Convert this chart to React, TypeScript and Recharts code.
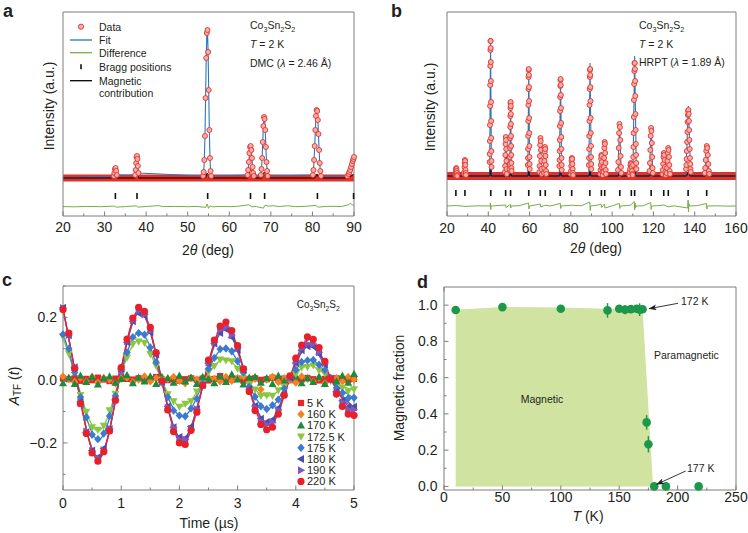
import React from 'react';
import { ComposedChart, Line, Scatter, Area, XAxis, YAxis, ErrorBar } from 'recharts';

const FONT = '"Liberation Sans", Arial, Helvetica, sans-serif';
const INK = '#231f20';
const FRAME = '#7d7d7d';
const RED = '#e2312b';
const PINK = '#f6b0a9';
const BLUE = '#2a78bb';
const DIFF = '#76ae45';
const DGREEN = '#1d984a';
const AREA = '#d0e3a0';

type Pt = [number, number];
const pts = (arr: Pt[]) => arr.map(([x, y]) => ({ x, y }));

// ---------- a: DMC pattern (intensity in arbitrary units) ----------
const obsA: Pt[] = [
  [32.2, 40], [32.35, 43], [32.5, 47], [32.65, 48], [32.8, 45], [32.95, 41],
  [37.35, 41], [37.5, 46], [37.6, 53], [37.7, 59], [37.8, 60], [37.9, 57], [38.0, 50], [38.15, 43],
  [53.7, 40], [53.85, 44], [54.0, 56], [54.15, 80], [54.3, 118], [54.45, 158], [54.6, 183], [54.75, 186],
  [54.9, 164], [55.05, 126], [55.2, 86], [55.35, 58], [55.5, 45], [55.65, 40],
  [64.4, 41], [64.55, 46], [64.7, 54], [64.85, 63], [65.0, 69], [65.15, 70], [65.3, 66], [65.45, 58],
  [65.6, 49], [65.75, 43], [65.9, 40],
  [67.6, 41], [67.75, 47], [67.9, 58], [68.05, 74], [68.2, 90], [68.35, 99], [68.5, 97], [68.65, 86],
  [68.8, 69], [68.95, 54], [69.1, 45], [69.25, 40],
  [80.1, 41], [80.25, 46], [80.4, 56], [80.55, 70], [80.7, 86], [80.85, 100], [81.0, 106], [81.15, 105],
  [81.3, 96], [81.45, 82], [81.6, 66], [81.75, 53], [81.9, 45], [82.05, 40],
  [88.4, 40], [88.7, 42], [88.9, 44], [89.1, 46], [89.3, 49], [89.5, 52], [89.7, 55], [89.85, 57], [90.0, 59],
];
const backgroundA: Pt[] = [[20, 38], [90, 38]];
const fitA: Pt[] = [[20, 38], ...obsA];
const magA: Pt[] = [
  [20, 38], [32.2, 38], [32.6, 43], [33.0, 38], [37.4, 38], [37.8, 48], [38.2, 38], [54.2, 38], [54.7, 43],
  [55.2, 38], [64.5, 38], [65.1, 47], [65.7, 38], [67.9, 38], [68.4, 44], [68.9, 38], [80.6, 38], [81.1, 42],
  [81.6, 38], [88.4, 38], [89.3, 40], [90, 42],
];
const diffA: Pt[] = [
  [20, 9.4], [23, 9.2], [26, 9.6], [29, 9.3], [32.4, 9.9], [32.8, 8.8], [35, 9.4], [37.6, 10.2], [38.0, 8.9],
  [40, 9.5], [43, 10.4], [44, 9.4], [47, 9.6], [50, 9.3], [52, 9.6], [54.3, 8.6], [54.7, 12.0], [55.0, 7.6],
  [55.4, 10.2], [56, 9.2], [58, 9.6], [60, 9.3], [62, 9.7], [64.7, 11.2], [65.4, 9.2], [66.5, 9.5], [68.2, 7.8],
  [68.6, 10.8], [69.5, 9.8], [70.5, 10.3], [72, 9.4], [74, 10.3], [76, 9.3], [78, 9.6], [80.8, 10.6], [81.4, 8.9],
  [83, 9.5], [85, 9.7], [87, 9.4], [88.6, 11.2], [89.2, 12.6], [89.7, 11], [90, 10.4],
];
const braggA = [32.6, 37.8, 54.8, 65.1, 68.5, 81.2, 89.9];
const BRAGG_LEVEL_A = 20;
const ticksA = [20, 25, 30, 35, 40, 45, 50, 55, 60, 65, 70, 75, 80, 85, 90];

// ---------- b: HRPT pattern ----------
const obsB: Pt[] = [
  [24.07, 41], [24.17, 42], [24.27, 44], [24.37, 47], [24.47, 48], [24.58, 47], [24.68, 45], [24.78, 43], [24.88, 41], [24.98, 40],
  [28.27, 42], [28.37, 44], [28.47, 49], [28.57, 53], [28.67, 56], [28.78, 55], [28.88, 51], [28.98, 46], [29.08, 43], [29.18, 41],
  [40.67, 54], [40.72, 62], [40.77, 75], [40.82, 91], [40.87, 110], [40.92, 131], [40.97, 150], [41.02, 166], [41.07, 175], [41.12, 175],
  [41.17, 168], [41.22, 154], [41.27, 135], [41.32, 114], [41.37, 95], [41.42, 78], [41.47, 65], [41.52, 55], [41.57, 49],
  [48.07, 44], [48.17, 50], [48.27, 61], [48.37, 72], [48.47, 79], [48.58, 76], [48.68, 67], [48.78, 55], [48.88, 47], [48.98, 42],
  [50.37, 47], [50.42, 52], [50.47, 59], [50.52, 68], [50.57, 78], [50.62, 89], [50.67, 100], [50.72, 108], [50.77, 113], [50.82, 114],
  [50.87, 110], [50.92, 102], [50.97, 92], [51.02, 80], [51.07, 70], [51.12, 61], [51.17, 53], [51.22, 48], [51.27, 45],
  [59.17, 51], [59.22, 58], [59.27, 67], [59.32, 80], [59.37, 95], [59.42, 111], [59.47, 127], [59.52, 139], [59.57, 146], [59.62, 147],
  [59.67, 141], [59.72, 129], [59.77, 115], [59.82, 98], [59.87, 83], [59.92, 70], [59.97, 59], [60.02, 52], [60.07, 47],
  [64.75, 44], [64.88, 50], [65.01, 60], [65.14, 71], [65.27, 78], [65.4, 75], [65.53, 66], [65.66, 55], [65.79, 47], [65.92, 42],
  [66.95, 43], [67.08, 48], [67.21, 55], [67.34, 64], [67.47, 69], [67.6, 67], [67.73, 60], [67.86, 51], [67.99, 45], [68.12, 42],
  [74.44, 50], [74.51, 56], [74.57, 65], [74.64, 76], [74.7, 90], [74.77, 105], [74.83, 119], [74.9, 130], [74.96, 136], [75.03, 137],
  [75.09, 131], [75.16, 121], [75.22, 108], [75.29, 93], [75.35, 79], [75.42, 67], [75.48, 58], [75.55, 51], [75.61, 46],
  [79.95, 42], [80.08, 45], [80.21, 50], [80.34, 55], [80.47, 58], [80.6, 57], [80.73, 52], [80.86, 47], [80.99, 43], [81.12, 41],
  [88.74, 51], [88.81, 58], [88.87, 67], [88.94, 80], [89.0, 95], [89.07, 111], [89.13, 127], [89.2, 139], [89.26, 146], [89.33, 147],
  [89.39, 141], [89.46, 129], [89.52, 115], [89.59, 98], [89.65, 83], [89.72, 70], [89.78, 59], [89.85, 52], [89.91, 47],
  [94.25, 42], [94.38, 46], [94.51, 51], [94.64, 57], [94.77, 61], [94.9, 60], [95.03, 54], [95.16, 48], [95.29, 44], [95.42, 41],
  [95.85, 44], [95.98, 49], [96.11, 58], [96.24, 68], [96.37, 74], [96.5, 72], [96.63, 63], [96.76, 53], [96.89, 46], [97.02, 42],
  [102.83, 46], [103.01, 54], [103.19, 68], [103.37, 83], [103.55, 92], [103.74, 89], [103.92, 76], [104.1, 60], [104.28, 49], [104.46, 43],
  [108.33, 41], [108.51, 44], [108.69, 47], [108.87, 51], [109.05, 53], [109.24, 52], [109.42, 49], [109.6, 45], [109.78, 42], [109.96, 41],
  [110.13, 51], [110.22, 59], [110.31, 69], [110.4, 83], [110.49, 99], [110.58, 116], [110.67, 132], [110.76, 145], [110.85, 153], [110.94, 153],
  [111.03, 147], [111.12, 135], [111.21, 120], [111.3, 102], [111.39, 86], [111.48, 72], [111.57, 61], [111.66, 53], [111.75, 47],
  [118.13, 45], [118.31, 53], [118.49, 66], [118.67, 80], [118.85, 88], [119.04, 85], [119.22, 73], [119.4, 59], [119.58, 48], [119.76, 43],
  [124.33, 42], [124.51, 46], [124.69, 52], [124.87, 59], [125.05, 63], [125.24, 61], [125.42, 56], [125.6, 49], [125.78, 44], [125.96, 41],
  [126.43, 43], [126.61, 48], [126.79, 55], [126.97, 63], [127.15, 68], [127.34, 66], [127.52, 59], [127.7, 51], [127.88, 45], [128.06, 42],
  [135.82, 47], [135.95, 51], [136.07, 57], [136.2, 65], [136.32, 74], [136.45, 84], [136.57, 94], [136.7, 101], [136.82, 105], [136.95, 106],
  [137.08, 102], [137.2, 95], [137.33, 86], [137.45, 76], [137.58, 67], [137.7, 58], [137.83, 52], [137.95, 47], [138.08, 44],
  [144.84, 43], [145.09, 48], [145.34, 56], [145.59, 65], [145.84, 70], [146.09, 68], [146.34, 61], [146.59, 52], [146.84, 45], [147.09, 42],
];
const backgroundB: Pt[] = [[20, 40], [160, 40]];
const fitB: Pt[] = [
  [20, 40], [24.05, 40], [24.5, 48], [24.95, 40], [28.25, 40], [28.7, 56], [29.15, 40], [40.65, 40], [41.1, 177], [41.55, 40],
  [48.05, 40], [48.5, 79], [48.95, 40], [50.35, 40], [50.8, 114], [51.25, 40], [59.15, 40], [59.6, 148], [60.05, 40],
  [64.7, 40], [65.3, 78], [65.9, 40], [66.9, 40], [67.5, 69], [68.1, 40], [74.4, 40], [75.0, 138], [75.6, 40],
  [79.9, 40], [80.5, 58], [81.1, 40], [88.7, 40], [89.3, 153], [89.9, 40], [94.2, 40], [94.8, 61], [95.4, 40],
  [95.8, 40], [96.4, 74], [97.0, 40], [102.75, 40], [103.6, 93], [104.45, 40], [108.25, 40], [109.1, 53], [109.95, 40],
  [110.05, 40], [110.9, 160], [111.75, 40], [118.05, 40], [118.9, 90], [119.75, 40], [124.25, 40], [125.1, 63], [125.95, 40],
  [126.35, 40], [127.2, 68], [128.05, 40], [135.7, 40], [136.9, 110], [138.1, 40], [144.7, 40], [145.9, 70], [147.1, 40], [160, 40],
];
const magB: Pt[] = [
  [20, 40], [24.15, 40], [24.5, 46], [24.85, 40], [28.35, 40], [28.7, 56], [29.05, 40], [40.75, 40], [41.1, 50], [41.45, 40],
  [48.15, 40], [48.5, 59], [48.85, 40], [50.45, 40], [50.8, 53], [51.15, 40], [59.25, 40], [59.6, 48], [59.95, 40],
  [64.85, 40], [65.3, 50], [65.75, 40], [67.05, 40], [67.5, 46], [67.95, 40], [74.55, 40], [75.0, 47], [75.45, 40],
  [80.05, 40], [80.5, 46], [80.95, 40], [88.85, 40], [89.3, 47], [89.75, 40], [94.35, 40], [94.8, 50], [95.25, 40],
  [95.95, 40], [96.4, 45], [96.85, 40], [102.95, 40], [103.6, 44], [104.25, 40], [108.45, 40], [109.1, 45], [109.75, 40],
  [110.25, 40], [110.9, 46], [111.55, 40], [118.25, 40], [118.9, 46], [119.55, 40], [124.45, 40], [125.1, 43], [125.75, 40],
  [126.55, 40], [127.2, 44], [127.85, 40], [136.0, 40], [136.9, 44], [137.8, 40], [145.0, 40], [145.9, 44], [146.8, 40], [160, 40],
];
const diffB: Pt[] = [
  [20, 10], [24.5, 10.5], [28.7, 9.6], [35, 10.2], [40.9, 10], [41.0, 13], [41.2, 6.5], [41.35, 10], [48.4, 11], [48.6, 8.5],
  [50.7, 11.5], [50.9, 8], [51.1, 10], [55, 10.3], [59.5, 13], [59.7, 7], [59.9, 10], [65.2, 12], [65.4, 9], [67.5, 10.8],
  [70, 10], [74.9, 12.5], [75.1, 7.5], [75.3, 10], [80.5, 10.8], [85, 10.2], [89.2, 14], [89.4, 5.5], [89.6, 10],
  [94.7, 11.5], [94.9, 8.5], [96.3, 12], [96.5, 8], [100, 10.2], [103.5, 12.5], [103.7, 7.5], [103.9, 10], [109, 10.8],
  [110.7, 14.5], [110.9, 6], [111.1, 13], [111.3, 8], [111.5, 10], [115, 10.2], [118.7, 13.5], [118.9, 6.5], [119.1, 10],
  [122, 10.3], [125, 11], [127.2, 9.2], [130, 10.2], [136.6, 8], [136.8, 16], [137, 4], [137.2, 12.5], [137.4, 10],
  [141, 10.3], [145.7, 12.5], [145.9, 7], [146.1, 10], [150, 10.2], [155, 9.9], [160, 10],
];
const braggB = [24.3, 28.7, 41.2, 48.4, 50.8, 59.6, 65.2, 67.6, 74.8, 80.4, 89.2, 94.8, 96.4, 103.7, 109.3, 110.9, 118.9, 125.0, 127.2, 136.8, 145.8];
const BRAGG_LEVEL_B = 23;
const ticksB = [20, 30, 40, 50, 60, 70, 80, 90, 100, 110, 120, 130, 140, 150, 160];

// ---------- c: muSR time spectra ----------
const timeC = [
  0, 0.1, 0.2, 0.3, 0.4, 0.5, 0.6, 0.7, 0.8, 0.9, 1.0, 1.1, 1.2, 1.3, 1.4, 1.5, 1.6, 1.7, 1.8, 1.9, 2.0, 2.1, 2.2, 2.3, 2.4, 2.5,
  2.6, 2.7, 2.8, 2.9, 3.0, 3.1, 3.2, 3.3, 3.4, 3.5, 3.6, 3.7, 3.8, 3.9, 4.0, 4.1, 4.2, 4.3, 4.4, 4.5, 4.6, 4.7, 4.8, 4.9, 5.0,
];
const asy5K = [
  0.005, 0.003, 0.006, -0.002, 0.004, 0.0, 0.008, 0.002, -0.003, 0.005, 0.012, 0.004, 0.002, 0.006, -0.001, 0.003, 0.01,
  0.002, 0.0, 0.004, -0.002, 0.003, 0.006, 0.001, 0.005, -0.001, 0.004, 0.013, 0.003, 0.002, 0.005, -0.002, 0.004, 0.006,
  0.001, 0.003, 0.008, 0.002, 0.005, 0.0, 0.004, 0.002, 0.007, 0.003, -0.001, 0.004, 0.002, 0.006, 0.003, 0.001, 0.004,
];
const asy160K = [
  0.012, 0.004, -0.006, 0.008, -0.004, 0.01, -0.008, 0.006, 0.002, -0.01, 0.004, 0.008, -0.006, 0.002, 0.012, -0.004, 0.006,
  -0.008, 0.004, 0.01, -0.002, -0.01, 0.006, 0.002, -0.006, 0.008, 0.004, -0.004, 0.01, -0.002, 0.006, 0.012, -0.008, 0.004,
  -0.03, 0.002, 0.01, -0.006, 0.006, 0.0, -0.008, 0.012, 0.004, -0.004, 0.008, -0.01, 0.002, 0.006, -0.004, 0.01, 0.002,
];
const asy170K = [
  -0.01, 0.008, -0.012, 0.014, -0.006, 0.01, -0.014, 0.006, 0.012, -0.008, 0.004, 0.016, -0.01, 0.008, -0.004, 0.012, -0.012,
  0.01, 0.006, -0.008, 0.014, -0.004, 0.008, -0.012, 0.01, 0.004, -0.01, 0.012, -0.006, 0.018, 0.002, -0.014, 0.008, 0.01,
  -0.008, 0.006, -0.012, 0.014, -0.004, 0.008, 0.012, -0.01, 0.006, -0.006, 0.01, -0.012, 0.008, -0.004, 0.014, -0.008, 0.02,
];
const asy172K = [
  0.138, 0.085, 0.027, -0.047, -0.101, -0.15, -0.158, -0.145, -0.096, -0.043, 0.024, 0.072, 0.115, 0.123, 0.119, 0.083, 0.046,
  0.001, -0.045, -0.067, -0.085, -0.075, -0.067, -0.036, -0.011, 0.026, 0.045, 0.066, 0.063, 0.06, 0.036, 0.017, -0.014,
  -0.03, -0.05, -0.048, -0.05, -0.032, -0.02, 0.006, 0.02, 0.04, 0.042, 0.047, 0.031, 0.022, -0.002, -0.046, -0.024, -0.035, -0.029,
];
const asy175K = [
  0.146, 0.1, 0.024, -0.054, -0.118, -0.174, -0.188, -0.17, -0.114, -0.05, 0.028, 0.088, 0.137, 0.15, 0.145, 0.104, 0.057,
  -0.006, -0.054, -0.097, -0.113, -0.115, -0.09, -0.059, -0.01, 0.036, 0.071, 0.099, 0.101, 0.092, 0.06, 0.025, -0.021,
  -0.053, -0.083, -0.092, -0.08, -0.062, -0.027, 0.007, 0.033, 0.058, 0.063, 0.064, 0.049, 0.032, 0.002, -0.024, -0.041, -0.058, -0.056,
];
const asy180K = [
  0.231, 0.143, 0.041, -0.069, -0.166, -0.224, -0.246, -0.217, -0.156, -0.062, 0.036, 0.121, 0.188, 0.213, 0.206, 0.153, 0.082,
  -0.006, -0.084, -0.15, -0.181, -0.185, -0.148, -0.092, -0.016, 0.054, 0.117, 0.15, 0.162, 0.137, 0.096, 0.033, -0.029,
  -0.082, -0.123, -0.133, -0.126, -0.089, -0.045, 0.009, 0.055, 0.095, 0.108, 0.107, 0.083, 0.05, 0.005, -0.036, -0.066, -0.086, -0.085,
];
const asy190K = [
  0.23, 0.144, 0.042, -0.07, -0.164, -0.226, -0.248, -0.223, -0.154, -0.066, 0.033, 0.124, 0.191, 0.221, 0.209, 0.157, 0.084,
  -0.007, -0.088, -0.152, -0.19, -0.189, -0.156, -0.093, -0.021, 0.056, 0.121, 0.16, 0.169, 0.144, 0.102, 0.035, -0.031,
  -0.087, -0.13, -0.141, -0.134, -0.095, -0.049, 0.01, 0.06, 0.101, 0.116, 0.115, 0.089, 0.054, 0.004, -0.038, -0.07, -0.093, -0.094,
];
const asy220K = [
  0.225, 0.15, 0.038, -0.075, -0.17, -0.232, -0.258, -0.228, -0.162, -0.064, 0.04, 0.131, 0.198, 0.232, 0.219, 0.168, 0.088,
  -0.002, -0.095, -0.164, -0.2, -0.205, -0.16, -0.102, -0.017, 0.064, 0.128, 0.172, 0.185, 0.158, 0.11, 0.036, -0.036,
  -0.097, -0.141, -0.158, -0.15, -0.108, -0.048, 0.014, 0.07, 0.112, 0.138, 0.13, 0.104, 0.06, 0.004, -0.044, -0.084, -0.108, -0.112,
];
// fitted curves: extrema and zero crossings
const fitTime = [0, 0.235, 0.6, 0.965, 1.33, 1.695, 2.06, 2.425, 2.79, 3.155, 3.52, 3.885, 4.25, 4.615, 5.0];
const fit172K = [0.136, 0, -0.162, 0, 0.127, 0, -0.083, 0, 0.066, 0, -0.051, 0, 0.046, 0, -0.032];
const fit175K = [0.15, 0, -0.19, 0, 0.153, 0, -0.116, 0, 0.103, 0, -0.091, 0, 0.066, 0, -0.058];
const fit180K = [0.229, 0, -0.247, 0, 0.217, 0, -0.188, 0, 0.16, 0, -0.135, 0, 0.11, 0, -0.087];
const fit190K = [0.229, 0, -0.249, 0, 0.221, 0, -0.194, 0, 0.168, 0, -0.143, 0, 0.118, 0, -0.095];
const fit220K = [0.229, 0, -0.252, 0, 0.227, 0, -0.202, 0, 0.178, 0, -0.154, 0, 0.13, 0, -0.105];
const flatTime = [0, 5];
const fit5K = [0.004, 0.004];
const fit160K = [0.003, 0.003];
const fit170K = [0.001, 0.001];
const ticksCx = [0, 0.5, 1, 1.5, 2, 2.5, 3, 3.5, 4, 4.5, 5];
const ticksCy = [-0.3, -0.2, -0.1, 0, 0.1, 0.2, 0.3];

type Kind = 'square' | 'diamond' | 'up' | 'down' | 'left' | 'right' | 'circle';
const seriesC: { name: string; kind: Kind; color: string; ys: number[]; ft: number[]; fy: number[] }[] = [
  { name: '5 K', kind: 'square', color: '#e8232b', ys: asy5K, ft: flatTime, fy: fit5K },
  { name: '160 K', kind: 'diamond', color: '#f5821f', ys: asy160K, ft: flatTime, fy: fit160K },
  { name: '170 K', kind: 'up', color: '#1b8b3d', ys: asy170K, ft: flatTime, fy: fit170K },
  { name: '172.5 K', kind: 'down', color: '#8cc63f', ys: asy172K, ft: fitTime, fy: fit172K },
  { name: '175 K', kind: 'diamond', color: '#3b7bcf', ys: asy175K, ft: fitTime, fy: fit175K },
  { name: '180 K', kind: 'left', color: '#4b4cad', ys: asy180K, ft: fitTime, fy: fit180K },
  { name: '190 K', kind: 'right', color: '#7f58ba', ys: asy190K, ft: fitTime, fy: fit190K },
  { name: '220 K', kind: 'circle', color: '#e8202a', ys: asy220K, ft: fitTime, fy: fit220K },
];

// ---------- d: magnetic volume fraction ----------
const tempD = [10, 50, 100, 140, 150, 155, 160, 165, 167.5, 170, 173.5, 175, 180, 190, 218];
const fracD = [0.973, 0.989, 0.98, 0.971, 0.98, 0.975, 0.978, 0.98, 0.975, 0.977, 0.353, 0.232, 0, 0, 0];
const errD = [0.01, 0.01, 0.015, 0.04, 0.015, 0.025, 0.015, 0.02, 0.035, 0.02, 0.04, 0.045, 0.02, 0.02, 0.015];
const regionT = [10, 10, 50, 100, 140, 170, 179];
const regionF = [0, 0.975, 0.99, 0.987, 0.98, 0.977, 0];
const ticksDx = [0, 25, 50, 75, 100, 125, 150, 175, 200, 225, 250];
const ticksDy = [0, 0.1, 0.2, 0.3, 0.4, 0.5, 0.6, 0.7, 0.8, 0.9, 1.0];

// ---------- helpers ----------
type Side = 'bottom' | 'top' | 'left' | 'right';
const onStep = (v: number, step: number) => Math.abs(v / step - Math.round(v / step)) < 1e-6;

function tickMark(side: Side, major: number, fmt?: (v: number) => string, off = 16) {
  return (p: any) => {
    const v = Number(p.payload?.value);
    const x = Number(p.x);
    const y = Number(p.y);
    const big = onStep(v, major);
    const len = big ? 4.5 : 2.5;
    const x2 = side === 'left' ? x + len : side === 'right' ? x - len : x;
    const y2 = side === 'bottom' ? y - len : side === 'top' ? y + len : y;
    let label = null;
    if (fmt && big) {
      label =
        side === 'left' ? (
          <text x={x - off} y={y + 5} textAnchor="end" fontSize={14} fontFamily={FONT} fill={INK}>{fmt(v)}</text>
        ) : (
          <text x={x} y={y + off} textAnchor="middle" fontSize={14} fontFamily={FONT} fill={INK}>{fmt(v)}</text>
        );
    }
    return (
      <g>
        <line x1={x} y1={y} x2={x2} y2={y2} stroke={FRAME} strokeWidth={1} />
        {label}
      </g>
    );
  };
}

type FrameOpts = {
  xt: number[]; xMajor: number; xFmt: (v: number) => string; xOff: number;
  yt?: number[]; yMajor?: number; yFmt?: (v: number) => string; yOff?: number;
};

// axes of 1px thickness on all four sides; margins below are reduced by 1 to match
function frame(xDom: [number, number], yDom: [number, number], o: FrameOpts) {
  const common = { type: 'number' as const, tickSize: 0, tickMargin: 0, tickLine: false, axisLine: { stroke: FRAME }, interval: 0 as const };
  return [
    <XAxis key="xb" xAxisId={0} dataKey="x" domain={xDom} ticks={o.xt} height={1} {...common} tick={tickMark('bottom', o.xMajor, o.xFmt, o.xOff)} />,
    <XAxis key="xt" xAxisId="top" orientation="top" domain={xDom} ticks={o.xt} height={1} {...common} tick={tickMark('top', o.xMajor)} />,
    <YAxis key="yl" yAxisId={0} domain={yDom} ticks={o.yt} width={1} {...common} tick={o.yt ? tickMark('left', o.yMajor!, o.yFmt, o.yOff) : false} />,
    <YAxis key="yr" yAxisId="right" orientation="right" domain={yDom} ticks={o.yt} width={1} {...common} tick={o.yt ? tickMark('right', o.yMajor!) : false} />,
  ];
}

function Marker({ kind, cx, cy, color }: { kind: Kind; cx: number; cy: number; color: string }) {
  switch (kind) {
    case 'square':
      return <rect x={cx - 3.1} y={cy - 3.1} width={6.2} height={6.2} fill={color} />;
    case 'diamond':
      return <polygon points={`${cx},${cy - 4.2} ${cx + 3.7},${cy} ${cx},${cy + 4.2} ${cx - 3.7},${cy}`} fill={color} />;
    case 'up':
      return <polygon points={`${cx},${cy - 4.2} ${cx + 4},${cy + 3} ${cx - 4},${cy + 3}`} fill={color} />;
    case 'down':
      return <polygon points={`${cx},${cy + 4.2} ${cx + 4},${cy - 3} ${cx - 4},${cy - 3}`} fill={color} />;
    case 'left':
      return <polygon points={`${cx - 4.2},${cy} ${cx + 3},${cy - 4} ${cx + 3},${cy + 4}`} fill={color} />;
    case 'right':
      return <polygon points={`${cx + 4.2},${cy} ${cx - 3},${cy - 4} ${cx - 3},${cy + 4}`} fill={color} />;
    default:
      return <circle cx={cx} cy={cy} r={3.6} fill={color} />;
  }
}

const dataDot = (p: any) => <circle cx={p.cx} cy={p.cy} r={2.5} fill={PINK} stroke={RED} strokeWidth={0.9} />;
const braggMark = (p: any) => <rect x={p.cx - 0.8} y={p.cy - 3} width={1.6} height={6} fill="#111" />;
const noAnim = { isAnimationActive: false, dot: false, activeDot: false } as const;

function PanelA() {
  return (
    <ComposedChart width={374} height={266} margin={{ top: 11, right: 19, bottom: 49, left: 62 }}>
      {frame([20, 90], [0, 204], { xt: ticksA, xMajor: 10, xFmt: (v) => String(v), xOff: 15.7 })}
      <Line data={pts(backgroundA)} dataKey="y" stroke={RED} strokeWidth={7} {...noAnim} />
      <Scatter data={pts(obsA)} dataKey="y" shape={dataDot} isAnimationActive={false} />
      <Line data={pts(fitA)} dataKey="y" stroke={BLUE} strokeWidth={1.1} {...noAnim} />
      <Line data={pts(magA)} dataKey="y" type="monotone" stroke="#000" strokeWidth={1} {...noAnim} />
      <Line data={pts(diffA)} dataKey="y" stroke={DIFF} strokeWidth={1} {...noAnim} />
      <Scatter data={braggA.map((x) => ({ x, y: BRAGG_LEVEL_A }))} dataKey="y" shape={braggMark} isAnimationActive={false} />
    </ComposedChart>
  );
}

function PanelB() {
  return (
    <ComposedChart width={374} height={266} margin={{ top: 11, right: 11, bottom: 49, left: 72 }}>
      {frame([20, 160], [0, 204], { xt: ticksB, xMajor: 20, xFmt: (v) => String(v), xOff: 17 })}
      <Line data={pts(backgroundB)} dataKey="y" stroke={RED} strokeWidth={8} {...noAnim} />
      <Scatter data={pts(obsB)} dataKey="y" shape={dataDot} isAnimationActive={false} />
      <Line data={pts(fitB)} dataKey="y" stroke={BLUE} strokeWidth={1.1} {...noAnim} />
      <Line data={pts(magB)} dataKey="y" type="monotone" stroke="#000" strokeWidth={1} {...noAnim} />
      <Line data={pts(diffB)} dataKey="y" stroke={DIFF} strokeWidth={1} {...noAnim} />
      <Scatter data={braggB.map((x) => ({ x, y: BRAGG_LEVEL_B }))} dataKey="y" shape={braggMark} isAnimationActive={false} />
    </ComposedChart>
  );
}

const fmtSigned = (v: number) => (v < -1e-9 ? '\u2212' : '') + Math.abs(v).toFixed(1);

function PanelC() {
  return (
    <ComposedChart width={374} height={267} margin={{ top: 19, right: 19, bottom: 42, left: 62 }}>
      {frame([0, 5], [-0.35, 0.3], {
        xt: ticksCx, xMajor: 1, xFmt: (v) => String(v), xOff: 17.7,
        yt: ticksCy, yMajor: 0.2, yFmt: fmtSigned, yOff: 6,
      })}
      {seriesC.map((s) => (
        <Scatter
          key={'p' + s.name}
          data={timeC.map((t, i) => ({ x: t, y: s.ys[i] }))}
          dataKey="y"
          isAnimationActive={false}
          shape={(p: any) => <Marker kind={s.kind} cx={p.cx} cy={p.cy} color={s.color} />}
        />
      ))}
      {seriesC.map((s) => (
        <Line
          key={'f' + s.name}
          data={s.ft.map((t, i) => ({ x: t, y: s.fy[i] }))}
          dataKey="y"
          type="natural"
          stroke={s.color}
          strokeWidth={1.3}
          {...noAnim}
        />
      ))}
    </ComposedChart>
  );
}

function PanelD() {
  const region = regionT.map((x, i) => ({ x, y: regionF[i] }));
  const points = tempD.map((x, i) => ({ x, y: fracD[i], e: errD[i] }));
  return (
    <ComposedChart width={374} height={267} data={region} margin={{ top: 20, right: 11, bottom: 42, left: 69 }}>
      {frame([0, 250], [0, 1.1], {
        xt: ticksDx, xMajor: 50, xFmt: (v) => String(v), xOff: 11.5,
        yt: ticksDy, yMajor: 0.2, yFmt: (v) => v.toFixed(1), yOff: 6.5,
      })}
      <Area dataKey="y" type="linear" stroke="none" fill={AREA} fillOpacity={1} isAnimationActive={false} activeDot={false} />
      <Scatter
        data={points}
        dataKey="y"
        isAnimationActive={false}
        shape={(p: any) => <circle cx={p.cx} cy={p.cy} r={4.3} fill={DGREEN} />}
      >
        <ErrorBar dataKey="e" direction="y" width={0} stroke={DGREEN} strokeWidth={1.5} isAnimationActive={false} />
      </Scatter>
    </ComposedChart>
  );
}

function Formula({ x, y, size = 10.5 }: { x: number; y: number; size?: number }) {
  const sub = size * 0.68;
  return (
    <text x={x} y={y} fontSize={size}>
      Co<tspan fontSize={sub} dy={2.5}>3</tspan>
      <tspan dy={-2.5}>Sn</tspan>
      <tspan fontSize={sub} dy={2.5}>2</tspan>
      <tspan dy={-2.5}>S</tspan>
      <tspan fontSize={sub} dy={2.5}>2</tspan>
    </text>
  );
}

function Overlay() {
  const legendRows = ['Data', 'Fit', 'Difference', 'Bragg positions', 'Magnetic', 'contribution'];
  const legendY = [30.5, 44, 56.7, 70.7, 84.7, 97.3];
  return (
    <svg
      width={748}
      height={533}
      style={{ position: 'absolute', left: 0, top: 0, pointerEvents: 'none' }}
      fontFamily={FONT}
      fill={INK}
    >
      <defs>
        <marker id="arrowHead" markerUnits="userSpaceOnUse" markerWidth={8} markerHeight={6} refX={7.5} refY={3} orient="auto">
          <path d="M0,0 L8,3 L0,6 L2,3 Z" fill={INK} />
        </marker>
      </defs>

      {/* panel letters */}
      <g fontSize={18} fontWeight="bold">
        <text x={3} y={17}>a</text>
        <text x={391} y={17}>b</text>
        <text x={2} y={286}>c</text>
        <text x={417} y={288}>d</text>
      </g>

      {/* axis titles */}
      <g fontSize={14} textAnchor="middle">
        <text x={49} y={106} transform="rotate(-90 49 106)" dominantBaseline="central">Intensity (a.u.)</text>
        <text x={430} y={107} transform="rotate(-90 430 107)" dominantBaseline="central">Intensity (a.u.)</text>
        <text x={208} y={255}>2<tspan fontStyle="italic">θ</tspan> (deg)</text>
        <text x={596} y={253}>2<tspan fontStyle="italic">θ</tspan> (deg)</text>
        <text x={14} y={386} transform="rotate(-90 14 386)" dominantBaseline="central">
          <tspan fontStyle="italic">A</tspan>
          <tspan fontSize={10} dy={3}>TF</tspan>
          <tspan dy={-3}> (</tspan>
          <tspan fontStyle="italic">t</tspan>)
        </text>
        <text x={209} y={528}>Time (µs)</text>
        <text x={399} y={388} transform="rotate(-90 399 388)" dominantBaseline="central">Magnetic fraction</text>
        <text x={588} y={521}><tspan fontStyle="italic">T</tspan> (K)</text>
      </g>

      {/* panel a legend */}
      <circle cx={81} cy={26.7} r={2.6} fill={PINK} stroke={RED} strokeWidth={0.9} />
      <line x1={70} x2={92} y1={40} y2={40} stroke={BLUE} strokeWidth={1.3} />
      <line x1={70} x2={92} y1={52.7} y2={52.7} stroke={DIFF} strokeWidth={1.3} />
      <rect x={80.2} y={64.2} width={1.6} height={5} fill="#111" />
      <line x1={70} x2={92} y1={80.7} y2={80.7} stroke="#000" strokeWidth={1.3} />
      <g fontSize={10.5}>
        {legendRows.map((t, i) => (
          <text key={t} x={99} y={legendY[i]}>{t}</text>
        ))}
      </g>

      {/* panel a / b notes */}
      <g fontSize={10.5}>
        <Formula x={250} y={29} />
        <text x={250} y={48}><tspan fontStyle="italic">T</tspan> = 2 K</text>
        <text x={250} y={67}>DMC (<tspan fontStyle="italic">λ</tspan> = 2.46 Å)</text>
        <Formula x={639} y={29} />
        <text x={639} y={47.5}><tspan fontStyle="italic">T</tspan> = 2 K</text>
        <text x={639} y={66}>HRPT (<tspan fontStyle="italic">λ</tspan> = 1.89 Å)</text>
        <Formula x={296.7} y={308} size={10} />
      </g>

      {/* panel c legend */}
      <g fontSize={11}>
        {seriesC.map((s, i) => (
          <g key={s.name}>
            <Marker kind={s.kind} cx={301} cy={403 + i * 11.2} color={s.color} />
            <text x={307} y={407 + i * 11.2}>{s.name}</text>
          </g>
        ))}
      </g>

      {/* panel d notes */}
      <g fontSize={10.5}>
        <text x={681} y={305}>172 K</text>
        <text x={687} y={471.5}>177 K</text>
        <text x={654} y={359}>Paramagnetic</text>
        <text x={520.7} y={402.5}>Magnetic</text>
      </g>
      <line x1={678} y1={303.3} x2={649} y2={308.7} stroke={INK} strokeWidth={0.9} markerEnd="url(#arrowHead)" />
      <line x1={685.7} y1={471} x2={656.7} y2={484.3} stroke={INK} strokeWidth={0.9} markerEnd="url(#arrowHead)" />
    </svg>
  );
}

export default function App() {
  return (
    <div style={{ position: 'absolute', left: 0, top: 0, width: 748, height: 533, background: '#fff', fontFamily: FONT }}>
      <div style={{ position: 'absolute', left: 0, top: 0 }}><PanelA /></div>
      <div style={{ position: 'absolute', left: 374, top: 0 }}><PanelB /></div>
      <div style={{ position: 'absolute', left: 0, top: 266 }}><PanelC /></div>
      <div style={{ position: 'absolute', left: 374, top: 266 }}><PanelD /></div>
      <Overlay />
    </div>
  );
}
